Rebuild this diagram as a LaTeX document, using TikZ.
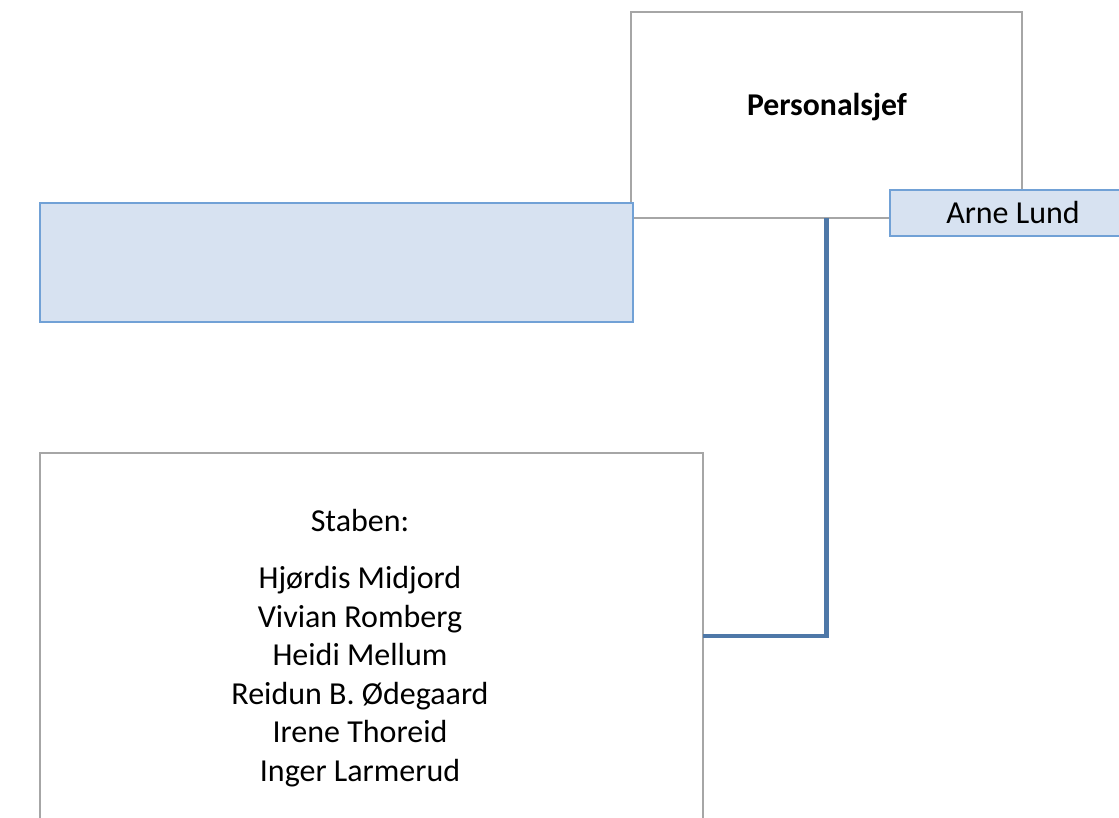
\documentclass[tikz,border=0pt]{standalone}
\usepackage{fontspec}
\setmainfont{Carlito}
\definecolor{grayline}{HTML}{A6A6A6}
\definecolor{bluefill}{HTML}{D7E2F1}
\definecolor{blueline}{HTML}{71A1D6}
\definecolor{connblue}{HTML}{4E78A8}
\tikzset{
  graybox/.style={draw=grayline, line width=0.9pt, fill=white, inner sep=0pt, outer sep=0pt, anchor=north west},
  bluebox/.style={draw=blueline, line width=1.4pt, fill=bluefill, inner sep=0pt, outer sep=0pt, anchor=north west},
  conn/.style={draw=connblue, line width=3.6pt},
  label/.style={inner sep=0pt, font=\fontsize{24}{28.9}\selectfont}
}
\begin{document}
\begin{tikzpicture}[x=0.75pt, y=-0.75pt]
\useasboundingbox (0,0) rectangle (1119,817);
\node[graybox, minimum width=293.25pt, minimum height=154.5pt] (p) at (631,12) {};
\node[bluebox, minimum width=444.75pt, minimum height=89.25pt] (b) at (40,203) {};
\node[bluebox, minimum width=180pt, minimum height=34.5pt] (a) at (890,190) {};
\node[graybox, minimum width=497.25pt, minimum height=274.5pt] (s) at (40,453) {};
\draw[conn] (p.south) |- (s.east);
\node[label, font=\fontsize{23.8}{28}\selectfont\bfseries] (pt) at (827,107) {Personalsjef};
\node[label] (at) at (1013,213) {Arne Lund};
\node[label, align=center] (st) at (360,648) {Staben:\\[14pt]Hjørdis Midjord\\Vivian Romberg\\Heidi Mellum\\Reidun B. Ødegaard\\Irene Thoreid\\Inger Larmerud};
\end{tikzpicture}
\end{document}
